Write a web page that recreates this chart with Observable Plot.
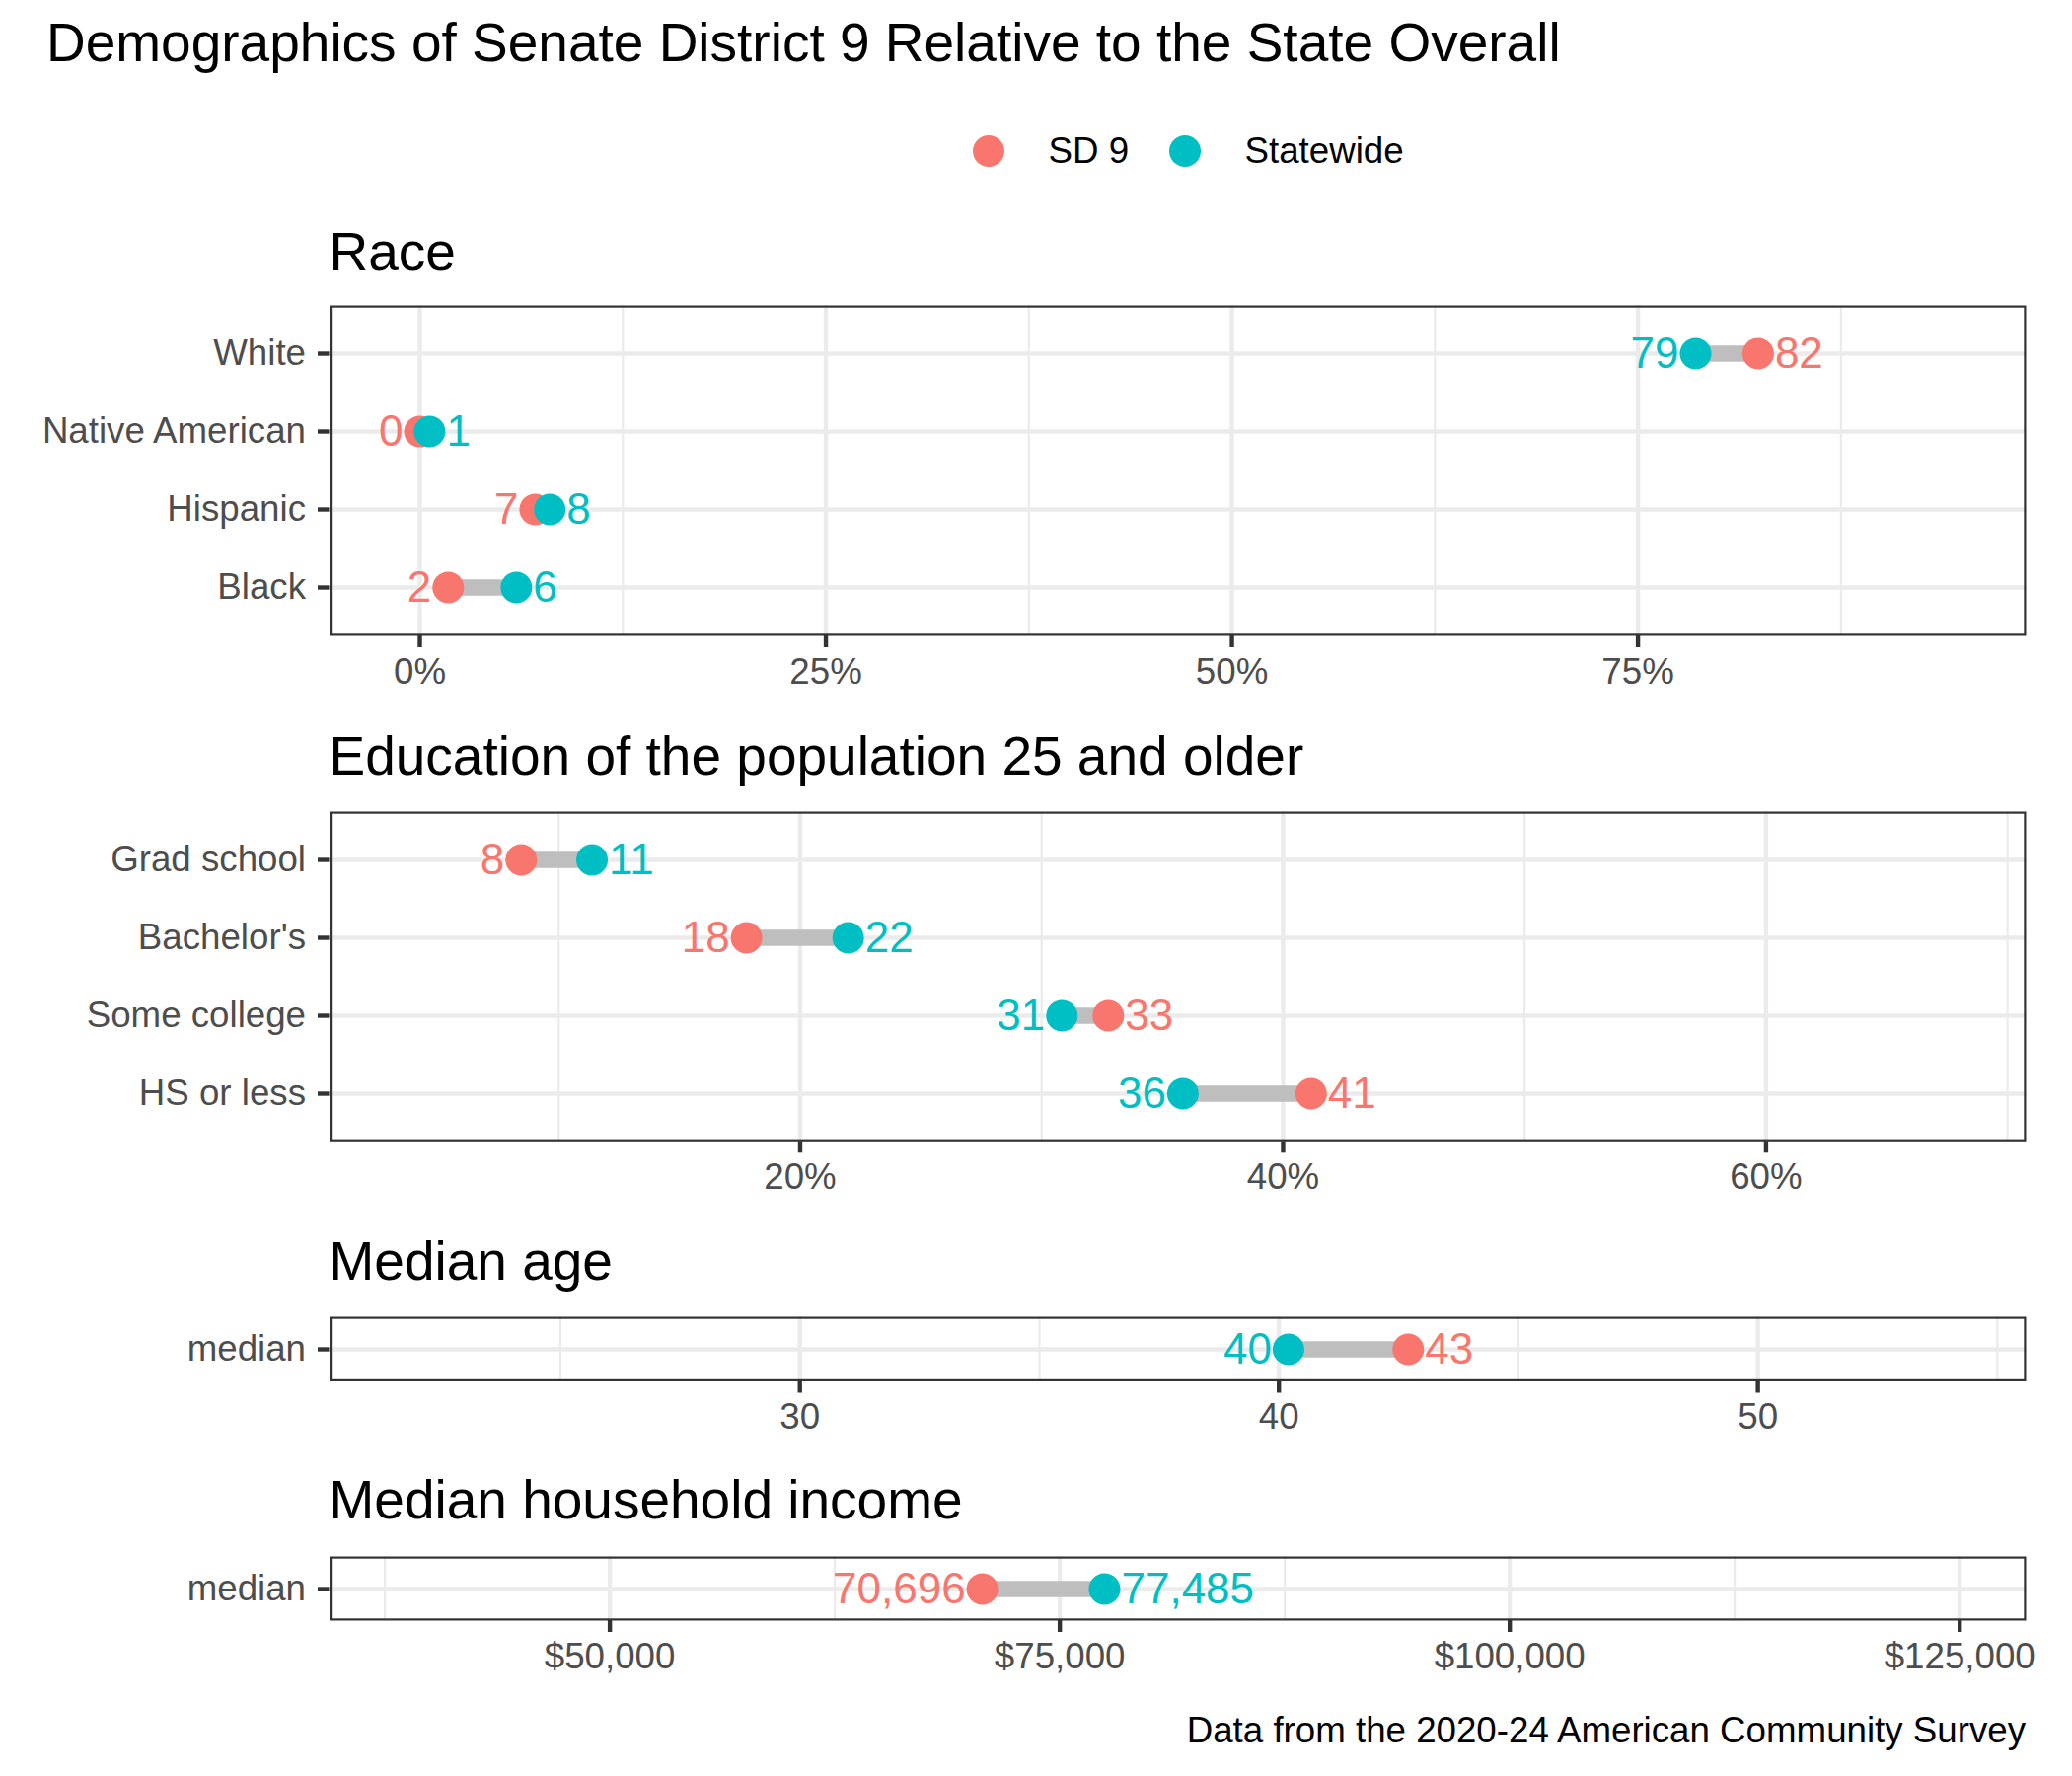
<!DOCTYPE html>
<html><head><meta charset="utf-8">
<script src="https://cdn.jsdelivr.net/npm/d3@7"></script>
<script src="https://cdn.jsdelivr.net/npm/@observablehq/plot@0.6"></script>
<style>
html,body{margin:0;padding:0;background:#fff;}
#root{position:relative;width:2100px;height:1800px;font-family:"Liberation Sans",Arial,Helvetica,sans-serif;overflow:hidden;background:#fff;}
.txt{position:absolute;white-space:nowrap;line-height:1;color:#000;}
.plot{position:absolute;left:0;}
</style></head><body><div id="root"></div>
<script>
// ---- data ----
const series = ["SD 9", "Statewide"];
const seriesColors = ["#F8766D", "#00BFC4"];

const chartTitle = "Demographics of Senate District 9 Relative to the State Overall";
const chartCaption = "Data from the 2020-24 American Community Survey";

const raceTitle = "Race";
const raceCats = ["White", "Native American", "Hispanic", "Black"];
const raceSD9 = [82.4, 0.0, 7.1, 1.75];
const raceState = [78.55, 0.6, 8.0, 5.94];
const raceTicks = [0, 25, 50, 75];
const raceTickLabels = ["0%", "25%", "50%", "75%"];
const raceMinor = [12.5, 37.5, 62.5, 87.5];
const raceDomain = [-5.56, 98.9];

const eduTitle = "Education of the population 25 and older";
const eduCats = ["Grad school", "Bachelor's", "Some college", "HS or less"];
const eduSD9 = [8.45, 17.78, 32.76, 41.16];
const eduState = [11.38, 21.99, 30.84, 35.85];
const eduTicks = [20, 40, 60];
const eduTickLabels = ["20%", "40%", "60%"];
const eduMinor = [10, 30, 50, 70];
const eduDomain = [0.51, 70.77];

const ageTitle = "Median age";
const ageCats = ["median"];
const ageSD9 = [42.7];
const ageState = [40.2];
const ageTicks = [30, 40, 50];
const ageTickLabels = ["30", "40", "50"];
const ageMinor = [25, 35, 45, 55];
const ageDomain = [20.18, 55.6];

const incTitle = "Median household income";
const incCats = ["median"];
const incSD9 = [70696];
const incState = [77485];
const incTicks = [50000, 75000, 100000, 125000];
const incTickLabels = ["$50,000", "$75,000", "$100,000", "$125,000"];
const incMinor = [37500, 62500, 87500, 112500];
const incDomain = [34424, 128690];

// ---- rendering ----
const FONT = '"Liberation Sans", Arial, Helvetica, sans-serif';
const root = document.getElementById("root");

function addText(str, opts) {
  const d = document.createElement("div");
  d.className = "txt";
  d.textContent = str;
  Object.assign(d.style, opts);
  root.appendChild(d);
  return d;
}

// title (55px, baseline 63)
addText(chartTitle, {left: "47px", top: (63 - 0.8465 * 55) + "px", fontSize: "55px"});

// legend
const legendX = [1002, 1201];
series.forEach((s, i) => {
  const c = document.createElement("div");
  Object.assign(c.style, {position: "absolute", left: (legendX[i] - 16) + "px", top: (153 - 16) + "px",
    width: "32px", height: "32px", borderRadius: "50%", background: seriesColors[i]});
  root.appendChild(c);
  addText(s, {left: (legendX[i] + 60.5) + "px", top: (153 + 0.358 * 36.7 - 0.8465 * 36.7) + "px", fontSize: "36.7px"});
});

function panel(cfg) {
  const rows = cfg.cats.map((c, i) => ({cat: c, sd: cfg.sd[i], st: cfg.st[i]}));
  const pts = [];
  rows.forEach(r => {
    const sdLeft = r.sd <= r.st;
    pts.push({cat: r.cat, series: series[0], v: r.sd, side: sdLeft ? "left" : "right"});
    pts.push({cat: r.cat, series: series[1], v: r.st, side: sdLeft ? "right" : "left"});
  });
  const H = cfg.bottom - cfg.top;
  const mt = 10, mb = 70;
  const grid = {stroke: "#EBEBEB", strokeOpacity: 1};
  const lab = d => cfg.fmt(d.v);
  const plot = Plot.plot({
    width: 2100, height: H + mt + mb,
    marginLeft: 333.5, marginRight: 47, marginTop: mt, marginBottom: mb,
    style: {fontFamily: FONT, background: "transparent", overflow: "visible"},
    x: {domain: cfg.domain},
    y: {type: "point", domain: cfg.cats, padding: 0.6},
    color: {domain: series, range: seriesColors},
    marks: [
      Plot.gridX(cfg.minor, {...grid, strokeWidth: 2.2}),
      Plot.gridX(cfg.ticks, {...grid, strokeWidth: 4.4}),
      Plot.gridY(cfg.cats, {...grid, strokeWidth: 4.4}),
      Plot.ruleY(rows, {y: "cat", x1: "sd", x2: "st", stroke: "#BEBEBE", strokeWidth: 16.7}),
      Plot.dot(pts.filter(d => d.series === series[0]), {x: "v", y: "cat", r: 16, fill: "series"}),
      Plot.dot(pts.filter(d => d.series === series[1]), {x: "v", y: "cat", r: 16, fill: "series"}),
      Plot.text(pts.filter(d => d.side === "left"), {x: "v", y: "cat", text: lab, fill: "series",
        textAnchor: "end", dx: -17, fontSize: 44}),
      Plot.text(pts.filter(d => d.side === "right"), {x: "v", y: "cat", text: lab, fill: "series",
        textAnchor: "start", dx: 17, fontSize: 44}),
      Plot.axisX(cfg.ticks, {tickFormat: d => cfg.tickLabels[cfg.ticks.indexOf(d)], tickSize: 12,
        tickPadding: 10, stroke: "#333333", strokeWidth: 4.4, fill: "#4D4D4D", fontSize: 36.7, label: null}),
      Plot.axisY(cfg.cats, {tickSize: 11.5, tickPadding: 12.5, stroke: "#333333", strokeWidth: 4.4,
        fill: "#4D4D4D", fontSize: 36.7, label: null}),
      Plot.frame({stroke: "#333333", strokeWidth: 2.2, inset: 1.1})
    ]
  });
  plot.classList.add("plot");
  plot.style.top = (cfg.top - mt) + "px";
  root.appendChild(plot);
  addText(cfg.title, {left: "333.5px", top: (cfg.titleBase - 0.8465 * 55) + "px", fontSize: "55px"});
}

const pct = d3.format(".0f");
panel({title: raceTitle, cats: raceCats, sd: raceSD9, st: raceState, ticks: raceTicks, tickLabels: raceTickLabels,
  minor: raceMinor, domain: raceDomain, fmt: pct, top: 309, bottom: 644, titleBase: 275});
panel({title: eduTitle, cats: eduCats, sd: eduSD9, st: eduState, ticks: eduTicks, tickLabels: eduTickLabels,
  minor: eduMinor, domain: eduDomain, fmt: pct, top: 821.7, bottom: 1156, titleBase: 786});
panel({title: ageTitle, cats: ageCats, sd: ageSD9, st: ageState, ticks: ageTicks, tickLabels: ageTickLabels,
  minor: ageMinor, domain: ageDomain, fmt: pct, top: 1334, bottom: 1399.5, titleBase: 1298});
panel({title: incTitle, cats: incCats, sd: incSD9, st: incState, ticks: incTicks, tickLabels: incTickLabels,
  minor: incMinor, domain: incDomain, fmt: d3.format(","), top: 1577, bottom: 1642, titleBase: 1540});

// caption (right aligned at 2053, baseline ~1767)
addText(chartCaption, {right: "47px", top: (1767 - 0.8465 * 36.7) + "px", fontSize: "36.7px"});
</script>
</body></html>
